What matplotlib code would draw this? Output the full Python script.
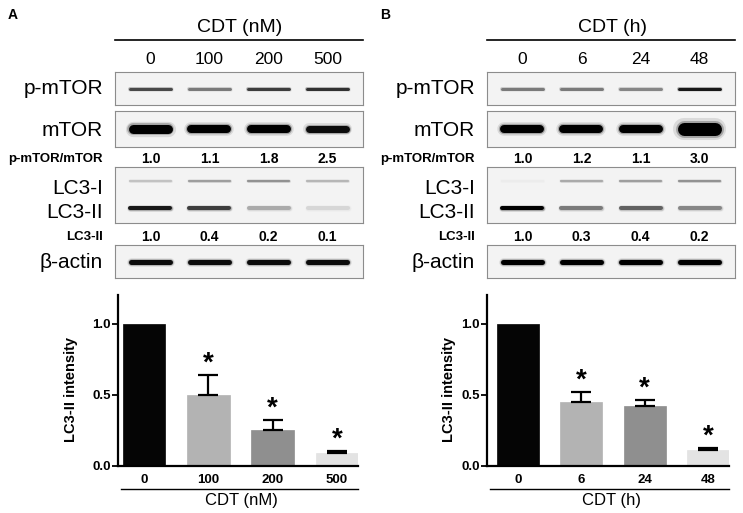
import matplotlib.pyplot as plt

W, H = 743, 513
plt.rcParams['font.family'] = ['Liberation Sans', 'DejaVu Sans']

dose_labels = ['0', '100', '200', '500']
time_labels = ['0', '6', '24', '48']
ratio_dose = ['1.0', '1.1', '1.8', '2.5']
ratio_time = ['1.0', '1.2', '1.1', '3.0']
lc3_dose = ['1.0', '0.4', '0.2', '0.1']
lc3_time = ['1.0', '0.3', '0.4', '0.2']

# band darkness per lane (0 = nothing, 1 = black)
pmtor_dose = [0.7, 0.5, 0.75, 0.8]
mtor_dose = [1.0, 1.0, 1.0, 0.95]
lc3i_dose = [0.2, 0.35, 0.4, 0.25]
lc3ii_dose = [0.9, 0.75, 0.3, 0.12]
actin_dose = [0.95, 0.95, 0.95, 0.95]

pmtor_time = [0.5, 0.5, 0.45, 0.9]
mtor_time = [1.0, 1.0, 1.0, 1.0]
lc3i_time = [0.03, 0.3, 0.35, 0.4]
lc3ii_time = [1.0, 0.5, 0.6, 0.45]
actin_time = [1.0, 1.0, 1.0, 1.0]

# bar chart values
bar_dose = [1.0, 0.50, 0.25, 0.09]
err_dose = [0.0, 0.14, 0.07, 0.015]
bar_time = [1.0, 0.45, 0.42, 0.11]
err_time = [0.0, 0.07, 0.04, 0.015]
bar_colors = ['#050505', '#b3b3b3', '#8f8f8f', '#e3e3e3']

PX = 0.72  # points per pixel at dpi 100
LANE_PAD = 0.6
BLOT_BG = 0.953

fig = plt.figure(figsize=(W / 100, H / 100), dpi=100)
bg = fig.add_axes([0, 0, 1, 1])
bg.set_xlim(0, W)
bg.set_ylim(H, 0)
bg.axis('off')


def px_axes(x0, y0, x1, y1):
    return fig.add_axes([x0 / W, 1 - y1 / H, (x1 - x0) / W, (y1 - y0) / H])


def blot(x0, y0, x1, y1, bands):
    ax = px_axes(x0, y0, x1, y1)
    ax.set_facecolor(str(BLOT_BG))
    ax.set_xlim(-LANE_PAD, 3 + LANE_PAD)
    ax.set_ylim(0, 1)
    ax.set_xticks([])
    ax.set_yticks([])
    for s in ax.spines.values():
        s.set_color('#8c8c8c')
        s.set_linewidth(0.8)
    lane_px = (x1 - x0) / (3 + 2 * LANE_PAD)
    for ypos, dark, thick in bands:
        for i, d in enumerate(dark):
            g = BLOT_BG * (1 - d)
            t = thick[i] if isinstance(thick, list) else thick
            half = (22 - t / 2) / lane_px
            # soft edges, then the band core
            for k, a in ((1.7, 0.1), (1.3, 0.25), (1.0, 1.0)):
                ax.plot([i - half, i + half], [ypos, ypos], color=str(g),
                        lw=t * k * PX, alpha=a, solid_capstyle='round')
    return ax


def panel(xoff, letter, title, lanes, ratio, lc3, pm, mt, l1, l2, act, mt_thick):
    x0, x1 = xoff + 115, xoff + 363
    step = (x1 - x0) / (3 + 2 * LANE_PAD)
    lane_x = [x0 + step * (LANE_PAD + i) for i in range(4)]
    bg.text(xoff + 8, 15, letter, fontsize=10, fontweight='bold', va='center')
    bg.text(xoff + 240, 27, title, fontsize=14, ha='center', va='center')
    bg.plot([x0, x1], [40, 40], color='black', lw=1.2)
    for x, s in zip(lane_x, lanes):
        bg.text(x, 59, s, fontsize=12.5, ha='center', va='center')
    lx = xoff + 103
    bg.text(lx, 89, 'p-mTOR', fontsize=15, ha='right', va='center')
    bg.text(lx, 130, 'mTOR', fontsize=15, ha='right', va='center')
    bg.text(lx, 159, 'p-mTOR/mTOR', fontsize=9.5, fontweight='bold', ha='right', va='center')
    bg.text(lx, 188, 'LC3-I', fontsize=15, ha='right', va='center')
    bg.text(lx, 212, 'LC3-II', fontsize=15, ha='right', va='center')
    bg.text(lx, 237, 'LC3-II', fontsize=9.5, fontweight='bold', ha='right', va='center')
    bg.text(lx, 263, '\u03b2-actin', fontsize=15, ha='right', va='center')
    for x, r, c in zip(lane_x, ratio, lc3):
        bg.text(x, 159, r, fontsize=10, fontweight='bold', ha='center', va='center')
        bg.text(x, 237, c, fontsize=10, fontweight='bold', ha='center', va='center')
    blot(x0, 72, x1, 105, [(0.47, pm, 3.0)])
    blot(x0, 111, x1, 147, [(0.5, mt, mt_thick)])
    blot(x0, 167, x1, 223, [(0.75, l1, 2.2), (0.27, l2, 4.0)])
    blot(x0, 245, x1, 278, [(0.5, act, 5.0)])


panel(0, 'A', 'CDT (nM)', dose_labels, ratio_dose, lc3_dose,
      pmtor_dose, mtor_dose, lc3i_dose, lc3ii_dose, actin_dose, [9, 8, 8, 7])
panel(372, 'B', 'CDT (h)', time_labels, ratio_time, lc3_time,
      pmtor_time, mtor_time, lc3i_time, lc3ii_time, actin_time, [8, 8, 8, 13])


def bars(x0, x1, left_pad, vals, errs, labels, xlabel, ylab_x):
    ax = px_axes(x0, 295, x1, 466)
    xs = list(range(len(vals)))
    ax.bar(xs, vals, width=0.66, color=bar_colors, edgecolor=bar_colors, linewidth=0.5)
    ax.errorbar(xs[1:], vals[1:], yerr=[[0] * 3, errs[1:]], fmt='none',
                ecolor='black', elinewidth=1.6, capsize=7, capthick=1.6)
    for x, v, e in zip(xs[1:], vals[1:], errs[1:]):
        ax.text(x, v + e - 0.01, '*', fontsize=20, fontweight='bold',
                ha='center', va='bottom')
    ax.set_xlim(-left_pad, 3.33)
    ax.set_ylim(0, 1.2)
    ax.set_yticks([0, 0.5, 1.0])
    ax.set_yticklabels(['0.0', '0.5', '1.0'], fontsize=9.5, fontweight='bold')
    ax.set_xticks(xs)
    ax.set_xticklabels(labels, fontsize=9.5, fontweight='bold')
    ax.tick_params(axis='x', length=0, pad=6)
    ax.tick_params(axis='y', length=4, width=1.3, pad=1)
    ax.spines['top'].set_visible(False)
    ax.spines['right'].set_visible(False)
    ax.spines['left'].set_linewidth(1.6)
    ax.spines['bottom'].set_linewidth(1.6)
    ax.patch.set_alpha(0)
    bg.text(ylab_x, 389, 'LC3-II intensity', fontsize=10.5, fontweight='bold',
            rotation=90, ha='center', va='center')
    bg.plot([x0 + 3, x1], [489, 489], color='black', lw=1)
    bg.text((x0 + x1) / 2 + 3, 501, xlabel, fontsize=12, ha='center', va='center')


bars(118, 358, 0.41, bar_dose, err_dose, dose_labels, 'CDT (nM)', 71)
bars(487, 729, 0.49, bar_time, err_time, time_labels, 'CDT (h)', 449)

fig.savefig('out.png', dpi=100)
